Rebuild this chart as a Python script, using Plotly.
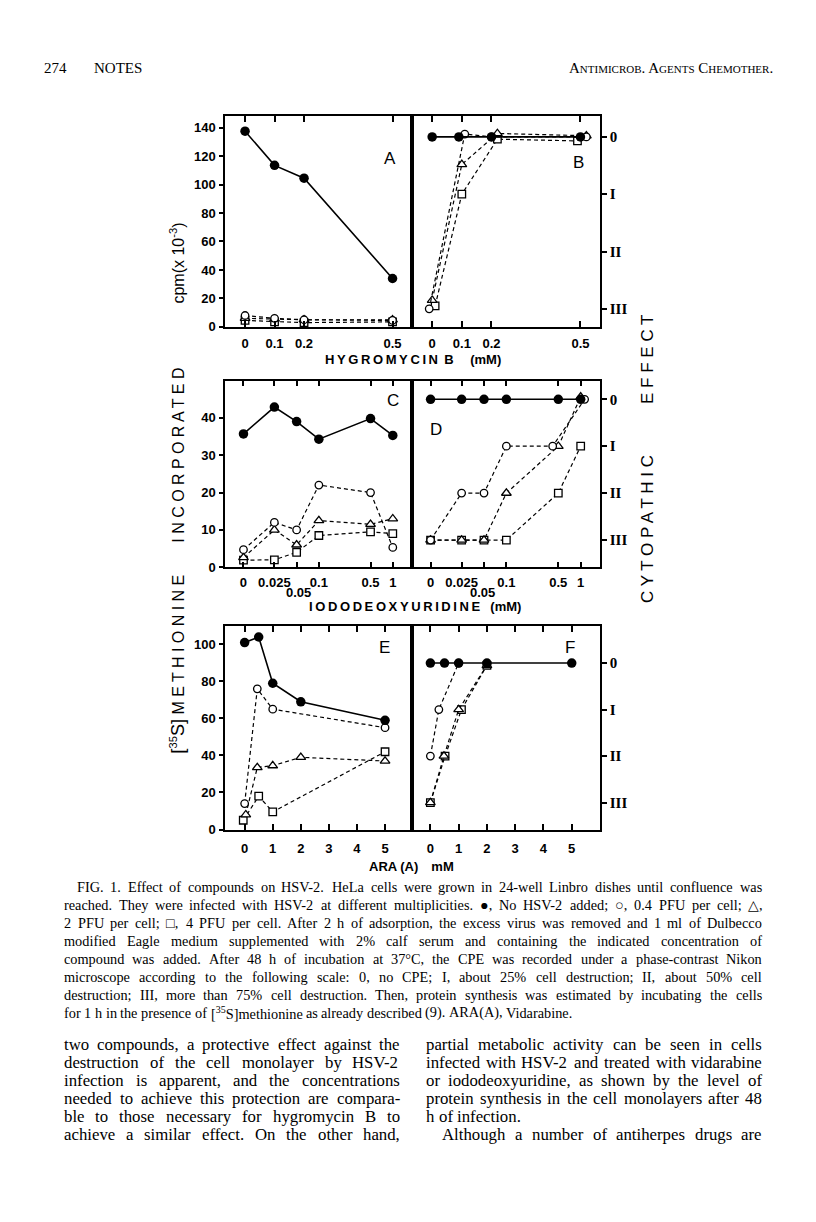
import re
import numpy as np
import plotly.graph_objects as go

# ---------------- data ----------------
# Panel A / B : hygromycin B (mM)
hyg_x = [0, 0.1, 0.2, 0.5]
hyg_labels = ["0", "0.1", "0.2", "0.5"]
A_none = [137.5, 113.5, 104.5, 34]
A_p04 = [8, 6, 5, 4.5]
A_p2 = [6, 5.5, 5, 5]
A_p4 = [4.5, 3.5, 3, 3.5]

B_none_x = [0, 0.09, 0.2, 0.5]
B_none = [0, 0, 0, 0]
B_p04_x = [-0.01, 0.11, 0.2, 0.52]
B_p04 = [3, -0.05, 0, 0]
B_p2_x = [0, 0.1, 0.22, 0.52]
B_p2 = [2.85, 0.48, -0.06, -0.02]
B_p4_x = [0.01, 0.1, 0.22, 0.49]
B_p4 = [2.95, 1, 0.04, 0.07]

# Panel C / D : iododeoxyuridine (mM)
idu_x = [0, 0.025, 0.05, 0.1, 0.5, 1]
idu_labels = ["0", "0.025", "", "0.1", "0.5", "1"]
C_none = [35.7, 42.9, 39.0, 34.3, 39.8, 35.3]
C_p04 = [4.7, 12, 10, 22, 20, 5.3]
C_p2 = [2.6, 10, 6, 12.5, 11.5, 13]
C_p4 = [1.9, 2, 4, 8.5, 9.5, 9]

D_none = [0, 0, 0, 0, 0, 0]
D_p04_x = [0, 0.025, 0.05, 0.1, 0.42, 1.13]
D_p04 = [3, 2, 2, 1, 1, 0]
D_p2 = [3, 3, 3, 2, 1, -0.05]
D_p4 = [3, 3, 3, 3, 2, 1]

# Panel E / F : ARA(A) mM
ara_x = [0, 0.5, 1, 2, 5]
ara_ticks = [0, 1, 2, 3, 4, 5]
E_none = [101, 104, 79, 69, 59]
E_p04_x = [0, 0.45, 1, 5]
E_p04 = [14, 76, 65, 55]
E_p2_x = [0.04, 0.45, 1, 2, 5]
E_p2 = [8, 33.5, 34.5, 39, 37]
E_p4_x = [-0.05, 0.5, 1, 5]
E_p4 = [5, 18, 9.5, 42]

F_none = [0, 0, 0, 0, 0]
F_p04_x = [0, 0.3, 1]
F_p04 = [2, 1, 0]
F_p2_x = [0, 0.48, 1, 2]
F_p2 = [3, 2, 1, 0.05]
F_p4_x = [0, 0.52, 1.1, 2]
F_p4 = [3, 2, 1, 0.05]

cpe_vals = [0, 1, 2, 3]
cpe_labels = ["0", "I", "II", "III"]

caption_lines = [
    "FIG. 1. Effect of compounds on HSV-2. HeLa cells were grown in 24-well Linbro dishes until confluence was",
    "reached. They were infected with HSV-2 at different multiplicities. \u25cf, No HSV-2 added; \u25cb, 0.4 PFU per cell; \u25b3,",
    "2 PFU per cell; \u25a1, 4 PFU per cell. After 2 h of adsorption, the excess virus was removed and 1 ml of Dulbecco",
    "modified Eagle medium supplemented with 2% calf serum and containing the indicated concentration of",
    "compound was added. After 48 h of incubation at 37\u00b0C, the CPE was recorded under a phase-contrast Nikon",
    "microscope according to the following scale: 0, no CPE; I, about 25% cell destruction; II, about 50% cell",
    "destruction; III, more than 75% cell destruction. Then, protein synthesis was estimated by incubating the cells",
    "for 1 h in the presence of [<sup>35</sup>S]methionine as already described (9). ARA(A), Vidarabine.",
]
body_left = [
    "two compounds, a protective effect against the",
    "destruction of the cell monolayer by HSV-2",
    "infection is apparent, and the concentrations",
    "needed to achieve this protection are compara-",
    "ble to those necessary for hygromycin B to",
    "achieve a similar effect. On the other hand,",
]
body_right = [
    "partial metabolic activity can be seen in cells",
    "infected with HSV-2 and treated with vidarabine",
    "or iododeoxyuridine, as shown by the level of",
    "protein synthesis in the cell monolayers after 48",
    "h of infection.",
    "Although a number of antiherpes drugs are",
]

# ---------------- geometry ----------------
# page body has an 8 px margin; the figure is laid out in page pixels minus it
OFF = 8
W, H = 800, 1206


def fx(px):
    return (px - OFF) / W


def fy(py):
    return 1 - (py - OFF) / H


ZERO_POS = -2.02


def idu_pos(vals):
    return [float(np.log10(v)) if v > 0 else ZERO_POS for v in vals]


fig = go.Figure()

DASH = "4px,3px"
STYLE = {
    "none": dict(mode="lines+markers", line=dict(color="black", width=1.6),
                 marker=dict(symbol="circle", size=9.5, color="black")),
    "p04": dict(mode="lines+markers", line=dict(color="black", width=1.2, dash=DASH),
                marker=dict(symbol="circle", size=7.5, color="white",
                            line=dict(color="black", width=1.3))),
    "p2": dict(mode="lines+markers", line=dict(color="black", width=1.2, dash=DASH),
               marker=dict(symbol="triangle-up", size=8.5, color="white",
                           line=dict(color="black", width=1.3))),
    "p4": dict(mode="lines+markers", line=dict(color="black", width=1.2, dash=DASH),
               marker=dict(symbol="square", size=7.5, color="white",
                           line=dict(color="black", width=1.3))),
}


def add(xs, ys, kind, n):
    ax = "" if n == 1 else str(n)
    fig.add_trace(go.Scatter(x=xs, y=ys, xaxis="x" + ax, yaxis="y" + ax,
                             showlegend=False, hoverinfo="skip", cliponaxis=False,
                             **STYLE[kind]))


# A
add(hyg_x, A_p4, "p4", 1)
add(hyg_x, A_p2, "p2", 1)
add(hyg_x, A_p04, "p04", 1)
add(hyg_x, A_none, "none", 1)
# B
add(B_p4_x, B_p4, "p4", 2)
add(B_p2_x, B_p2, "p2", 2)
add(B_p04_x, B_p04, "p04", 2)
add(B_none_x, B_none, "none", 2)
# C
add(idu_pos(idu_x), C_p4, "p4", 3)
add(idu_pos(idu_x), C_p2, "p2", 3)
add(idu_pos(idu_x), C_p04, "p04", 3)
add(idu_pos(idu_x), C_none, "none", 3)
# D
add(idu_pos(idu_x), D_p4, "p4", 4)
add(idu_pos(idu_x), D_p2, "p2", 4)
add(idu_pos(D_p04_x), D_p04, "p04", 4)
add(idu_pos(idu_x), D_none, "none", 4)
# E
add(E_p4_x, E_p4, "p4", 5)
add(E_p2_x, E_p2, "p2", 5)
add(E_p04_x, E_p04, "p04", 5)
add(ara_x, E_none, "none", 5)
# F
add(F_p4_x, F_p4, "p4", 6)
add(F_p2_x, F_p2, "p2", 6)
add(F_p04_x, F_p04, "p04", 6)
add(ara_x, F_none, "none", 6)

TICKFONT = dict(family="Liberation Sans", size=13, color="black", weight="bold")
SERIFTICK = dict(family="Liberation Serif", size=15, color="black", weight="bold")

cols = {"L": (225, 412), "R": (412, 600)}
rows = {1: (117, 329), 2: (383, 571), 3: (630, 835)}


def xax(col, row, rng, tickvals, ticktext, standoff, anchor):
    l, r = cols[col]
    return dict(domain=[fx(l), fx(r)], range=rng, tickvals=tickvals, ticktext=ticktext,
                anchor=anchor,
                showline=True, linecolor="black", linewidth=1.5, mirror="ticks",
                ticks="inside", ticklen=6, tickwidth=1.5, tickcolor="black",
                showgrid=False, zeroline=False, tickfont=TICKFONT,
                ticklabelstandoff=standoff)


def yax_left(row, rng, tickvals, anchor):
    t, b = rows[row]
    return dict(domain=[fy(b), fy(t)], range=rng, tickvals=tickvals, anchor=anchor,
                showline=True, linecolor="black", linewidth=1.5, mirror=True,
                ticks="outside", ticklen=4, tickwidth=1.5, tickcolor="black",
                showgrid=False, zeroline=False, tickfont=TICKFONT, ticklabelstandoff=1)


def yax_right(row, rng, anchor):
    t, b = rows[row]
    return dict(domain=[fy(b), fy(t)], range=rng, tickvals=cpe_vals, ticktext=cpe_labels,
                anchor=anchor, side="right",
                showline=True, linecolor="black", linewidth=1.5, mirror=True,
                ticks="outside", ticklen=5, tickwidth=1.5, tickcolor="black",
                showgrid=False, zeroline=False, tickfont=SERIFTICK, ticklabelstandoff=0)


idu_rng = [-2.27, 0.26]
fig.update_layout(
    width=W, height=H, autosize=False,
    margin=dict(l=0, r=0, t=0, b=0),
    paper_bgcolor="white", plot_bgcolor="white",
    showlegend=False,
    xaxis=xax("L", 1, [-0.068, 0.566], hyg_x, hyg_labels, 4, "y"),
    xaxis2=xax("R", 1, [-0.068, 0.566], hyg_x, hyg_labels, 4, "y2"),
    xaxis3=xax("L", 2, idu_rng, idu_pos(idu_x), idu_labels, 2, "y3"),
    xaxis4=xax("R", 2, idu_rng, idu_pos(idu_x), idu_labels, 2, "y4"),
    xaxis5=xax("L", 3, [-0.7, 5.96], ara_ticks, [str(v) for v in ara_ticks], 6, "y5"),
    xaxis6=xax("R", 3, [-0.65, 6.0], ara_ticks, [str(v) for v in ara_ticks], 6, "y6"),
    yaxis=yax_left(1, [0, 148], list(range(0, 141, 20)), "x"),
    yaxis2=yax_right(1, [3.315, -0.36], "x2"),
    yaxis3=yax_left(2, [0, 50], [0, 10, 20, 30, 40], "x3"),
    yaxis4=yax_right(2, [3.58, -0.40], "x4"),
    yaxis5=yax_left(3, [0, 110], [0, 20, 40, 60, 80, 100], "x5"),
    yaxis6=yax_right(3, [3.58, -0.80], "x6"),
)

ann = []


def text(px, py, s, size=13, family="Liberation Sans", weight="normal", xanchor="center",
         yanchor="middle", angle=0):
    ann.append(dict(x=fx(px), y=fy(py), xref="paper", yref="paper", text=s, showarrow=False,
                    xanchor=xanchor, yanchor=yanchor, textangle=angle,
                    font=dict(family=family, size=size, color="black", weight=weight)))


def spaced(s, sep="\u2009"):
    return sep.join(list(s))


# ---- Times (Liberation Serif) advance widths, per 1000 em, for justification ----
_TW = {}
_TW.update(zip("abcdefghijklmnopqrstuvwxyz",
               [444, 500, 444, 500, 444, 333, 500, 500, 278, 278, 500, 278, 778, 500, 500,
                500, 500, 333, 389, 278, 500, 500, 722, 500, 500, 444]))
_TW.update(zip("ABCDEFGHIJKLMNOPQRSTUVWXYZ",
               [722, 667, 667, 722, 611, 556, 722, 722, 333, 389, 722, 611, 889, 722, 722,
                556, 722, 667, 556, 611, 722, 722, 944, 722, 722, 611]))
_TW.update({c: 500 for c in "0123456789"})
_TW.update({".": 250, ",": 250, ";": 278, ":": 278, "-": 333, "(": 333, ")": 333,
            "[": 333, "]": 333, "%": 833, "\u00b0": 400, "/": 278,
            "\u25cf": 620, "\u25cb": 620, "\u25b3": 720, "\u25a1": 720})


def twidth(word, size):
    total = 0.0
    for sup, part in re.findall(r"<sup>(.*?)</sup>|([^<]+)", word):
        if sup:
            total += sum(_TW.get(c, 500) for c in sup) * 0.7
        if part:
            total += sum(_TW.get(c, 500) for c in part)
    return total * size / 1000.0


def justified(line, x0, x1, py, size, justify=True):
    words = line.split()
    widths = [twidth(w, size) for w in words]
    if justify and len(words) > 1:
        gap = (x1 - x0 - sum(widths)) / (len(words) - 1)
    else:
        gap = 0.25 * size
    x = x0
    for w, wd in zip(words, widths):
        text(x, py, w, size, family="Liberation Serif", xanchor="left")
        x += wd + gap


# panel letters
text(390, 160, "A", 17)
text(578, 164, "B", 17)
text(393, 403, "C", 17)
text(436, 432, "D", 17)
text(384, 652, "E", 17)
text(570, 652, "F", 17)

# 0.05 labels (second row of the C / D tick labels)
text(298, 596, "0.05", 13, weight="bold")
text(482, 596, "0.05", 13, weight="bold")

# x-axis titles
text(413, 362, spaced("HYGROMYCIN") + "\u2009 B\u2003 (mM)", 13, weight="bold")
text(415, 610, spaced("IODODEOXYURIDINE") + "\u2002 (mM)", 13, weight="bold")
text(411, 872, "ARA (A)\u2003mM", 13, weight="bold")

# left y title (rotated)
left_title = ('<span style="font-size:19px">[</span><sup>35</sup>'
              '<span style="font-size:18px">S]</span> ' + spaced("METHIONINE", " ") +
              "\u2003\u2003" + spaced("INCORPORATED", " ") +
              "\u2003\u2003\u2003\u2003cpm(x 10<sup>-3</sup>)")
text(178, 492, left_title, 16, angle=-90)

# right y title
text(648, 462, spaced("CYTOPATHIC", " ") + "\u2003\u2003\u2003" + spaced("EFFECT", " "), 17,
     angle=-90)

# page header
text(42, 68, "274", 15, family="Liberation Serif", xanchor="left")
text(92, 68, "NOTES", 15, family="Liberation Serif", xanchor="left")
sc = '<span style="font-size:11px">'
text(775, 68, "A" + sc + "NTIMICROB</span>. A" + sc + "GENTS</span> C" + sc + "HEMOTHER</span>.",
     15, family="Liberation Serif", xanchor="right")

# caption (justified lines; last line ragged)
CAP_L, CAP_R = 62, 760
for i, line in enumerate(caption_lines):
    x0 = 75 if i == 0 else CAP_L
    justified(line, x0, CAP_R, 893 + 18.1 * i, 14.3, justify=(i < len(caption_lines) - 1))

# body text, two justified columns of equal width
BODY = 16.8
for i, line in enumerate(body_left):
    justified(line, 62, 398, 1051 + 18.3 * i, BODY, True)
for i, line in enumerate(body_right):
    x0 = 440 if i == 5 else 424
    justified(line, x0, 760, 1051 + 18.3 * i, BODY, i != 4)

fig.update_layout(annotations=ann)
fig.write_html("out.html")
